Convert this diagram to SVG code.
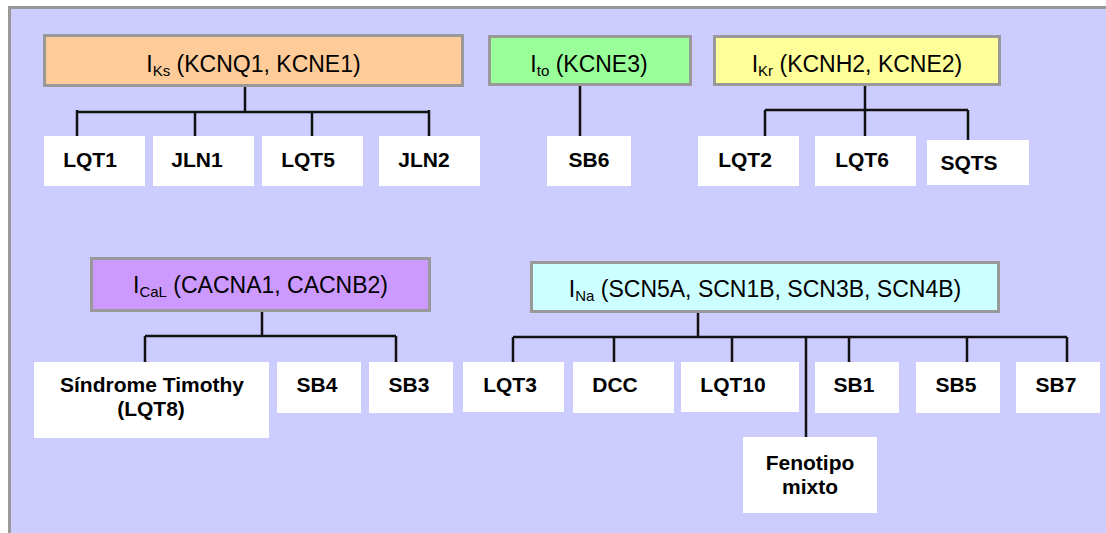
<svg xmlns="http://www.w3.org/2000/svg" width="1106" height="533" viewBox="0 0 1106 533">
  <style>
    .panel { fill: #CCCCFF; stroke: #999999; stroke-width: 3; }
    .head { stroke: #999999; stroke-width: 3; }
    .leaf { fill: #FFFFFF; }
    .htxt { font-family: "Liberation Sans", Arial, sans-serif; font-size: 23px; fill: #000; text-anchor: middle; }
    .sub { font-size: 15px; }
    .ltxt { font-family: "Liberation Sans", Arial, sans-serif; font-size: 21px; font-weight: bold; fill: #000; text-anchor: middle; }
    .wire { fill: none; stroke: #111111; stroke-width: 2.5; }
  </style>

  <rect x="0" y="0" width="1106" height="533" fill="#FFFFFF"/>
  <rect class="panel" x="9.5" y="7.5" width="1110" height="540"/>

  <!-- connectors -->
  <g id="connectors">
    <!-- IKs -->
    <path class="wire" d="M245 87 V112 M77 112 H429 M77 110 V136 M195 112 V136 M312 112 V136 M429 110 V136"/>
    <!-- Ito -->
    <path class="wire" d="M580 86 V136"/>
    <!-- IKr -->
    <path class="wire" d="M865 86 V136 M765 110 H968 M765 110 V136 M968 110 V140"/>
    <!-- ICaL -->
    <path class="wire" d="M262 312 V336 M145 336 H396 M145 336 V362 M396 336 V362"/>
    <!-- INa -->
    <path class="wire" d="M698 313 V337 M513 337 H1067 M513 337 V362 M614 337 V362 M732 337 V362 M806 337 V437 M849 337 V362 M967 337 V362 M1067 337 V362"/>
  </g>

  <!-- channel nodes -->
  <g id="iks">
    <rect class="head" x="44.5" y="35.5" width="418" height="50" fill="#FFCC99"/>
    <text class="htxt" x="253.5" y="72">I<tspan class="sub" dy="4">Ks</tspan><tspan dy="-4"> (KCNQ1, KCNE1)</tspan></text>
  </g>
  <g id="ito">
    <rect class="head" x="489.5" y="36.5" width="201" height="48" fill="#99FF99"/>
    <text class="htxt" x="589" y="72">I<tspan class="sub" dy="4">to</tspan><tspan dy="-4"> (KCNE3)</tspan></text>
  </g>
  <g id="ikr">
    <rect class="head" x="714.5" y="36.5" width="285" height="48" fill="#FFFF99"/>
    <text class="htxt" x="857" y="72">I<tspan class="sub" dy="4">Kr</tspan><tspan dy="-4"> (KCNH2, KCNE2)</tspan></text>
  </g>
  <g id="ical">
    <rect class="head" x="91.5" y="258.5" width="338" height="52" fill="#CC99FF"/>
    <text class="htxt" x="260.5" y="293">I<tspan class="sub" dy="4">CaL</tspan><tspan dy="-4"> (CACNA1, CACNB2)</tspan></text>
  </g>
  <g id="ina">
    <rect class="head" x="531.5" y="262.5" width="467" height="49" fill="#CCFFFF"/>
    <text class="htxt" x="765" y="296.5">I<tspan class="sub" dy="4">Na</tspan><tspan dy="-4"> (SCN5A, SCN1B, SCN3B, SCN4B)</tspan></text>
  </g>

  <!-- phenotype nodes -->
  <g id="lqt1"><rect class="leaf" x="44" y="136" width="101" height="50"/><text class="ltxt" x="90" y="167">LQT1</text></g>
  <g id="jln1"><rect class="leaf" x="153" y="136" width="101" height="50"/><text class="ltxt" x="197" y="167">JLN1</text></g>
  <g id="lqt5"><rect class="leaf" x="262" y="136" width="101" height="50"/><text class="ltxt" x="308" y="167">LQT5</text></g>
  <g id="jln2"><rect class="leaf" x="379" y="136" width="101" height="50"/><text class="ltxt" x="424" y="167">JLN2</text></g>

  <g id="sb6"><rect class="leaf" x="547" y="136" width="84" height="50"/><text class="ltxt" x="589" y="167">SB6</text></g>

  <g id="lqt2"><rect class="leaf" x="698" y="136" width="101" height="50"/><text class="ltxt" x="745" y="167">LQT2</text></g>
  <g id="lqt6"><rect class="leaf" x="815" y="136" width="101" height="50"/><text class="ltxt" x="862" y="167">LQT6</text></g>
  <g id="sqts"><rect class="leaf" x="927" y="140" width="102" height="45"/><text class="ltxt" x="969" y="170">SQTS</text></g>

  <g id="timothy"><rect class="leaf" x="34" y="362" width="235" height="76"/><text class="ltxt" x="152" y="392">Síndrome Timothy</text><text class="ltxt" x="151" y="416">(LQT8)</text></g>
  <g id="sb4"><rect class="leaf" x="277" y="362" width="84" height="51"/><text class="ltxt" x="317" y="392">SB4</text></g>
  <g id="sb3"><rect class="leaf" x="369" y="362" width="84" height="51"/><text class="ltxt" x="409" y="392">SB3</text></g>

  <g id="lqt3"><rect class="leaf" x="463" y="362" width="101" height="50"/><text class="ltxt" x="510" y="392">LQT3</text></g>
  <g id="dcc"><rect class="leaf" x="573" y="362" width="101" height="51"/><text class="ltxt" x="615" y="392">DCC</text></g>
  <g id="lqt10"><rect class="leaf" x="681" y="362" width="118" height="50"/><text class="ltxt" x="733" y="392">LQT10</text></g>
  <g id="sb1"><rect class="leaf" x="815" y="362" width="84" height="51"/><text class="ltxt" x="854" y="392">SB1</text></g>
  <g id="sb5"><rect class="leaf" x="916" y="362" width="84" height="51"/><text class="ltxt" x="956" y="392">SB5</text></g>
  <g id="sb7"><rect class="leaf" x="1016" y="362" width="84" height="51"/><text class="ltxt" x="1056" y="392">SB7</text></g>
  <g id="mixto"><rect class="leaf" x="743" y="437" width="134" height="76"/><text class="ltxt" x="810" y="470">Fenotipo</text><text class="ltxt" x="810" y="494">mixto</text></g>
</svg>
